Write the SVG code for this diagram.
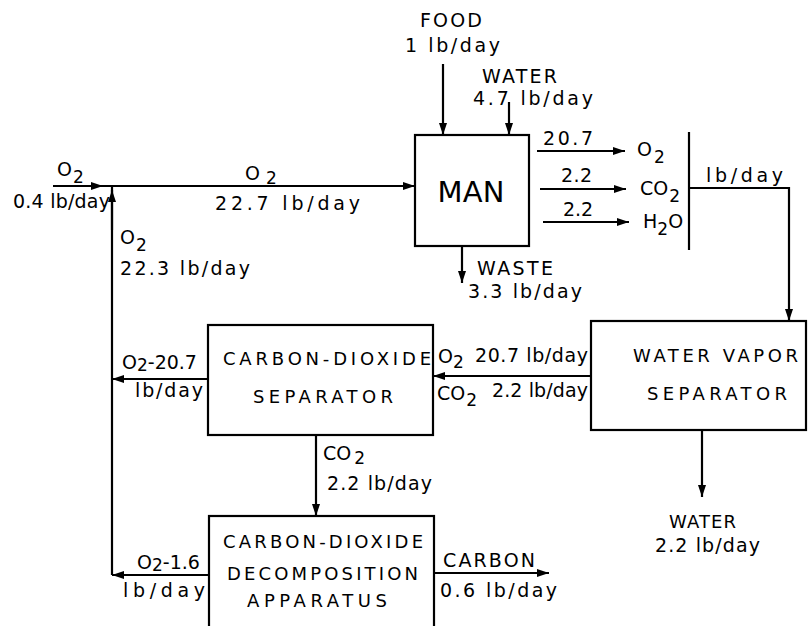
<svg xmlns="http://www.w3.org/2000/svg" width="810" height="626" viewBox="0 0 810 626">
<defs>
<marker id="ah" viewBox="0 0 12 8" refX="12" refY="4" markerWidth="12" markerHeight="8" markerUnits="userSpaceOnUse" orient="auto">
<path d="M0,0 L12,4 L0,8 Z" fill="#000"/>
</marker>
<style>
.ln{stroke:#000;stroke-width:2.2;fill:none}
.ar{stroke:#000;stroke-width:2.2;fill:none;marker-end:url(#ah)}
.bx{stroke:#000;stroke-width:2.2;fill:#fff}
text{font-family:"DejaVu Sans","Liberation Sans",Arial,sans-serif;font-size:19px;fill:#000}
.lb{font-size:19px}
.bt{font-size:18px}
.sub{font-size:17px}
</style>
</defs>
<rect width="810" height="626" fill="#fff"/>

<g id="connectors">
<line class="ar" x1="53" y1="186" x2="103" y2="186"/>
<line class="ar" x1="103" y1="186" x2="415" y2="186"/>
<line class="ln" x1="112" y1="186" x2="112" y2="575"/>
<line class="ar" x1="112" y1="230" x2="112" y2="190"/>
<line class="ar" x1="443" y1="64" x2="443" y2="135"/>
<line class="ar" x1="509" y1="102" x2="509" y2="135"/>
<line class="ar" x1="537" y1="151" x2="625" y2="151"/>
<line class="ar" x1="540" y1="189" x2="626" y2="189"/>
<line class="ar" x1="543" y1="222" x2="629" y2="222"/>
<line class="ar" x1="462" y1="246" x2="462" y2="283"/>
<line class="ln" x1="689" y1="132" x2="689" y2="250"/>
<polyline class="ar" points="689,188 789,188 789,321"/>
<line class="ar" x1="591" y1="376" x2="433" y2="376"/>
<line class="ar" x1="208" y1="379" x2="112" y2="379"/>
<line class="ar" x1="702" y1="430" x2="702" y2="497"/>
<line class="ar" x1="316" y1="435" x2="316" y2="516"/>
<line class="ar" x1="209" y1="575" x2="112" y2="575"/>
<line class="ar" x1="434" y1="573" x2="549" y2="573"/>
</g>

<g id="man">
<rect class="bx" x="415" y="135" width="114" height="111"/>
<text x="471" y="202" text-anchor="middle" style="font-size:29px" textLength="67" lengthAdjust="spacing">MAN</text>
</g>

<g id="water-vapor-separator">
<rect class="bx" x="591" y="321" width="215" height="109"/>
<text class="bt" x="633" y="362" textLength="165" lengthAdjust="spacing">WATER VAPOR</text>
<text class="bt" x="647" y="400" textLength="140" lengthAdjust="spacing">SEPARATOR</text>
</g>

<g id="co2-separator">
<rect class="bx" x="208" y="325" width="225" height="110"/>
<text class="bt" x="223" y="365" textLength="208" lengthAdjust="spacing">CARBON-DIOXIDE</text>
<text class="bt" x="253" y="403" textLength="140" lengthAdjust="spacing">SEPARATOR</text>
</g>

<g id="co2-decomposition">
<rect class="bx" x="209" y="516" width="225" height="130"/>
<text class="bt" x="223" y="548" textLength="200" lengthAdjust="spacing">CARBON-DIOXIDE</text>
<text class="bt" x="227" y="580" textLength="191" lengthAdjust="spacing">DECOMPOSITION</text>
<text class="bt" x="247" y="607" textLength="140" lengthAdjust="spacing">APPARATUS</text>
</g>

<g id="labels">
<text class="lb" x="420" y="27" textLength="62" lengthAdjust="spacing">FOOD</text>
<text class="lb" x="405" y="52" textLength="95" lengthAdjust="spacing">1 lb/day</text>
<text class="lb" x="482" y="83" textLength="75" lengthAdjust="spacing">WATER</text>
<text class="lb" x="473" y="105" textLength="120" lengthAdjust="spacing">4.7 lb/day</text>

<text class="lb" x="543" y="145" textLength="50" lengthAdjust="spacing">20.7</text>
<text class="lb" x="561" y="182" textLength="31" lengthAdjust="spacing">2.2</text>
<text class="lb" x="563" y="216" textLength="30" lengthAdjust="spacing">2.2</text>
<text class="lb" x="637" y="156">O<tspan class="sub" dx="2" dy="7">2</tspan></text>
<text class="lb" x="640" y="195">CO<tspan class="sub" dx="1" dy="7">2</tspan></text>
<text class="lb" x="643" y="228">H<tspan class="sub" dy="7">2</tspan><tspan dy="-7">O</tspan></text>
<text class="lb" x="706" y="182" textLength="77" lengthAdjust="spacing">lb/day</text>

<text class="lb" x="477" y="275" textLength="76" lengthAdjust="spacing">WASTE</text>
<text class="lb" x="468" y="298" textLength="114" lengthAdjust="spacing">3.3 lb/day</text>

<text class="lb" x="57" y="176">O<tspan class="sub" dx="1" dy="7">2</tspan></text>
<text class="lb" x="13" y="208" textLength="97" lengthAdjust="spacing">0.4 lb/day</text>
<text class="lb" x="245" y="180">O<tspan class="sub" dx="6" dy="4">2</tspan></text>
<text class="lb" x="215" y="210" textLength="145" lengthAdjust="spacing">22.7 lb/day</text>
<text class="lb" x="120" y="244">O<tspan class="sub" dx="1" dy="7">2</tspan></text>
<text class="lb" x="120" y="275" textLength="130" lengthAdjust="spacing">22.3 lb/day</text>

<text class="lb" x="122" y="369">O<tspan class="sub" dy="2">2</tspan><tspan dy="-2">-20.7</tspan></text>
<text class="lb" x="135" y="397" textLength="68" lengthAdjust="spacing">lb/day</text>

<text class="lb" x="438" y="363">O<tspan class="sub" dy="5">2</tspan></text>
<text class="lb" x="475" y="362" textLength="113" lengthAdjust="spacing">20.7 lb/day</text>
<text class="lb" x="437" y="400">CO<tspan class="sub" dx="1" dy="6">2</tspan></text>
<text class="lb" x="492" y="397" textLength="96" lengthAdjust="spacing">2.2 lb/day</text>

<text class="lb" x="323" y="460">CO<tspan class="sub" dx="3" dy="4">2</tspan></text>
<text class="lb" x="327" y="490" textLength="105" lengthAdjust="spacing">2.2 lb/day</text>

<text class="lb" x="669" y="528" style="font-size:18px" textLength="67" lengthAdjust="spacing">WATER</text>
<text class="lb" x="655" y="552" textLength="105" lengthAdjust="spacing">2.2 lb/day</text>

<text class="lb" x="137" y="569">O<tspan class="sub" dy="2">2</tspan><tspan dy="-2">-1.6</tspan></text>
<text class="lb" x="123" y="597" textLength="82" lengthAdjust="spacing">lb/day</text>

<text class="lb" x="443" y="567" textLength="92" lengthAdjust="spacing">CARBON</text>
<text class="lb" x="440" y="597" textLength="117" lengthAdjust="spacing">0.6 lb/day</text>
</g>
</svg>
